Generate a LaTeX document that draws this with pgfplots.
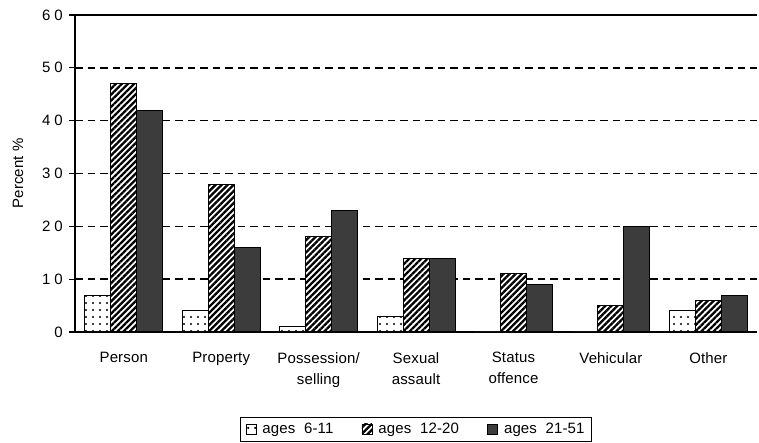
\documentclass[border=0pt]{standalone}
\usepackage{fontspec}
\setmainfont{Liberation Sans}[LetterSpace=1]
\usepackage{pgfplots}
\pgfplotsset{compat=1.18}
\usetikzlibrary{patterns.meta}
\definecolor{darkbar}{RGB}{60,60,60}
\newcommand{\tl}[2]{#1\hspace{4pt}#2}
\begin{document}
\fontsize{15pt}{18pt}\selectfont
\begin{tikzpicture}
\begin{axis}[
  scale only axis,
  width=682pt, height=317pt,
  ybar=0pt, bar width=26pt,
  xmin=-0.5, xmax=6.5,
  ymin=0, ymax=60,
  ytick={0,10,...,60},
  yticklabels={0,\tl{1}{0},\tl{2}{0},\tl{3}{0},\tl{4}{0},\tl{5}{0},\tl{6}{0}},
  xtick={0,...,6},
  xticklabels={Person,Property,Possession/\\selling,Sexual\\assault,Status\\offence,Vehicular,Other},
  xticklabel style={align=center, font=\fontsize{15pt}{21pt}\selectfont, yshift=-9pt},
  yticklabel style={font=\fontsize{15pt}{18pt}\selectfont, xshift=-1pt},
  major x tick style={draw=none},
  major y tick style={black, line width=1.2pt},
  tick align=outside,
  major tick length=6pt,
  axis lines*=left,
  axis line style={black, line width=1.5pt, -},
  ymajorgrids,
  major grid style={black, line width=1.6pt, dash pattern=on 7.5pt off 5pt},
  ylabel={Percent \%},
  ylabel style={font=\fontsize{15pt}{18pt}\selectfont, at={(axis description cs:-0.0836,0.5)}, anchor=center},
  legend style={at={(axis description cs:0.5,-0.268)}, anchor=north, legend columns=3, draw=black, line width=1.2pt,
    font=\fontsize{15pt}{18pt}\selectfont, inner xsep=5pt, inner ysep=3.5pt,
    /tikz/every even column/.append style={column sep=26pt}},
  legend image code/.code={\draw[#1, line width=0.6pt] (0pt,-4.5pt) rectangle (10pt,5.5pt); \path (0pt,0pt) (14pt,0pt);},
  clip=false,
]
\addplot[draw=black, line width=1pt, fill=white, postaction={pattern={Dots[distance=6.5pt, radius=1.2pt, xshift=2pt, yshift=2pt]}}]
  coordinates {(0,7) (1,4) (2,1) (3,3) (4,0) (5,0) (6,4)};
\addplot[draw=black, line width=1pt, fill=white, postaction={pattern={Lines[angle=45, distance=4.3pt, line width=2.3pt]}}]
  coordinates {(0,47) (1,28) (2,18) (3,14) (4,11) (5,5) (6,6)};
\addplot[draw=black, line width=1pt, fill=darkbar]
  coordinates {(0,42) (1,16) (2,23) (3,14) (4,9) (5,20) (6,7)};
\legend{ages\ \ 6-11, ages\ \ 12-20, ages\ \ 21-51}
\draw[black, line width=1.5pt] (axis description cs:-0.0088,1) -- (axis description cs:1,1);
\path (axis description cs:-0.110,1.0473) (axis description cs:1.0029,-0.350);
\end{axis}
\end{tikzpicture}
\end{document}
